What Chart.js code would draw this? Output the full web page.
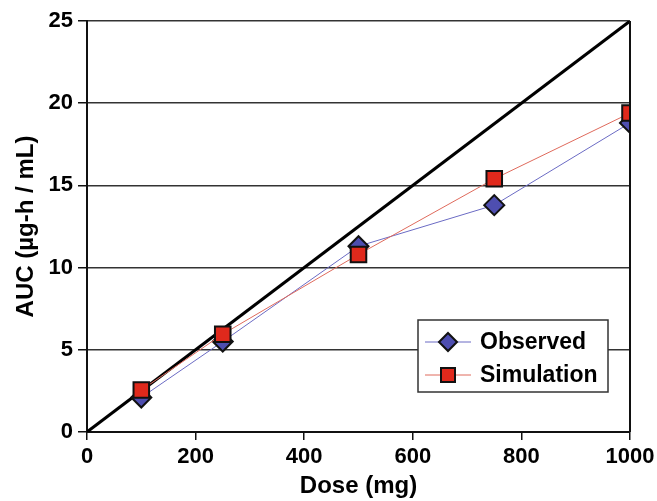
<!DOCTYPE html>
<html>
<head>
<meta charset="utf-8">
<script src="https://cdn.jsdelivr.net/npm/chart.js@4.4.1/dist/chart.umd.min.js"></script>
<style>
  html, body { margin: 0; padding: 0; background: #fff; }
  #wrap { width: 657px; height: 501px; }
</style>
</head>
<body>
<div id="wrap"><canvas id="aucChart" width="657" height="501"></canvas></div>
<script>
var doses = [100, 250, 500, 750, 1000];
var observed = [2.1, 5.5, 11.3, 13.8, 18.8];
var simulation = [2.55, 5.95, 10.8, 15.4, 19.4];
var unityLine = [[0, 0], [1000, 25]];
var xTicks = [0, 200, 400, 600, 800, 1000];
var yTicks = [0, 5, 10, 15, 20, 25];

function pts(xs, ys) {
	return xs.map(function(x, i){ return {x: x, y: ys[i]}; });
}

var FONT = "'Liberation Sans', Arial, sans-serif";

// right edge of the frame + legend drawn inside the plot
var framePlugin = {
	id: 'frame',
	afterDraw: function(chart) {
		var ctx = chart.ctx, a = chart.chartArea;
		ctx.save();
		ctx.strokeStyle = '#111';
		ctx.lineWidth = 2;
		ctx.beginPath();
		ctx.moveTo(a.right, a.top);
		ctx.lineTo(a.right, a.bottom);
		ctx.stroke();

		// legend box
		var bx = 418, by = 320, bw = 190, bh = 72;
		ctx.fillStyle = '#fff';
		ctx.fillRect(bx, by, bw, bh);
		ctx.lineWidth = 1.5;
		ctx.strokeStyle = '#333';
		ctx.strokeRect(bx, by, bw, bh);

		var items = [
			{label: 'Observed', ds: chart.data.datasets[0], y: by + 22},
			{label: 'Simulation', ds: chart.data.datasets[1], y: by + 55}
		];
		items.forEach(function(it){
			ctx.strokeStyle = it.ds.borderColor;
			ctx.lineWidth = 1;
			ctx.beginPath();
			ctx.moveTo(bx + 7, it.y);
			ctx.lineTo(bx + 53, it.y);
			ctx.stroke();
			ctx.fillStyle = it.ds.pointBackgroundColor;
			ctx.strokeStyle = '#111';
			ctx.lineWidth = 2;
			ctx.beginPath();
			if (it.ds.pointStyle === 'rect') {
				ctx.rect(bx + 30 - 7, it.y - 7, 14, 14);
			} else {
				ctx.moveTo(bx + 30, it.y - 9);
				ctx.lineTo(bx + 39, it.y);
				ctx.lineTo(bx + 30, it.y + 9);
				ctx.lineTo(bx + 21, it.y);
				ctx.closePath();
			}
			ctx.fill();
			ctx.stroke();
			ctx.fillStyle = '#000';
			ctx.font = 'bold 23px ' + FONT;
			ctx.textBaseline = 'middle';
			ctx.textAlign = 'left';
			ctx.fillText(it.label, bx + 62, it.y + 1);
		});
		ctx.restore();
	}
};

var data = {
	datasets: [
	{
		label: 'Observed',
		data: pts(doses, observed),
		borderColor: '#6b6bc4',
		borderWidth: 1,
		pointStyle: 'rectRot',
		pointRadius: 10,
		pointBackgroundColor: '#4e4eb0',
		pointBorderColor: '#111',
		pointBorderWidth: 2,
		order: 2
	},
	{
		label: 'Simulation',
		data: pts(doses, simulation),
		borderColor: '#df6a5c',
		borderWidth: 1,
		pointStyle: 'rect',
		pointRadius: 11,
		pointBackgroundColor: '#e0291c',
		pointBorderColor: '#111',
		pointBorderWidth: 2,
		order: 1
	},
	{
		label: 'Unity',
		data: unityLine.map(function(p){ return {x: p[0], y: p[1]}; }),
		borderColor: '#000',
		borderWidth: 3,
		pointRadius: 0,
		order: 3
	}
	]
};

var options = {
	responsive: false,
	animation: false,
	layout: { padding: { top: 21, right: 27, left: 0, bottom: 0 } },
	plugins: { legend: { display: false }, tooltip: { enabled: false } },
	scales: {
		x: {
			type: 'linear',
			min: 0, max: 1000,
			afterFit: function(s){ s.height = 69; s.paddingLeft = 0; s.paddingRight = 0; },
			afterBuildTicks: function(s){ s.ticks = xTicks.map(function(v){ return {value: v}; }); },
			grid: { drawOnChartArea: false, drawTicks: true, tickLength: 8, color: '#111', lineWidth: 1.5 },
			border: { color: '#111', width: 2 },
			ticks: {
				color: '#000', font: { family: FONT, size: 22, weight: 'bold' }, padding: 4, maxRotation: 0,
				callback: function(v){ return String(v); }
			},
			title: { display: true, text: 'Dose (mg)', color: '#000', font: { family: FONT, size: 24, weight: 'bold' }, padding: { top: 0, bottom: 0 } }
		},
		y: {
			type: 'linear',
			min: 0, max: 25,
			afterFit: function(s){ s.width = 87; s.paddingTop = 0; s.paddingBottom = 0; },
			afterBuildTicks: function(s){ s.ticks = yTicks.map(function(v){ return {value: v}; }); },
			grid: { color: '#333', lineWidth: 1.5, drawTicks: true, tickLength: 9, tickColor: '#111' },
			border: { color: '#111', width: 2 },
			ticks: { color: '#000', font: { family: FONT, size: 22, weight: 'bold' }, padding: 5 },
			title: { display: true, text: 'AUC (µg-h / mL)', color: '#000', font: { family: FONT, size: 24, weight: 'bold' }, padding: { top: 12, bottom: 0 } }
		}
	}
};

var ctx = document.getElementById('aucChart').getContext('2d');
new Chart(ctx, { type: 'line', data: data, options: options, plugins: [framePlugin] });
</script>
</body>
</html>
